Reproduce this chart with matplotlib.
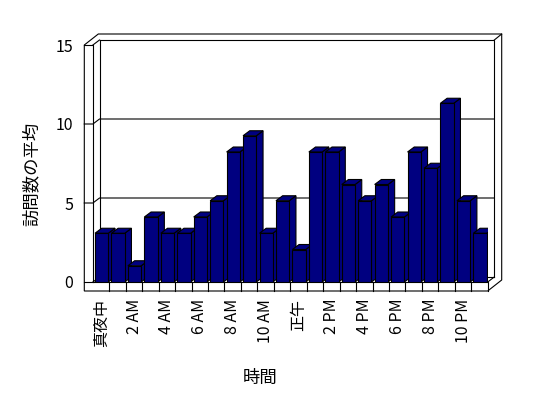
import matplotlib
matplotlib.use('Agg')
import matplotlib.pyplot as plt
from matplotlib.patches import Polygon

plt.rcParams['font.family'] = ['Noto Sans CJK JP', 'DejaVu Sans']

# データ
hours = ['真夜中', '1 AM', '2 AM', '3 AM', '4 AM', '5 AM', '6 AM', '7 AM',
         '8 AM', '9 AM', '10 AM', '11 AM', '正午', '1 PM', '2 PM', '3 PM',
         '4 PM', '5 PM', '6 PM', '7 PM', '8 PM', '9 PM', '10 PM', '11 PM']
visits = [3, 3, 1, 4, 3, 3, 4, 5, 8, 9, 3, 5, 2, 8, 8, 6, 5, 6, 4, 8, 7, 11, 5, 3]
y_ticks = [0, 5, 10, 15]
x_label = '時間'
y_label = '訪問数の平均'

NAVY = '#000080'
W, H = 548, 398
fig = plt.figure(figsize=(W / 100, H / 100), dpi=100)

# front plane of the 3d box, in pixels
x0, x1 = 92.9, 487.7
yb0, yb15 = 282, 45
n = len(hours)
pos = [x0 / W, 1 - yb0 / H, (x1 - x0) / W, (yb0 - yb15) / H]
cx = (x1 - x0) / n          # px per category
cy = (yb0 - yb15) / 15.0    # px per unit

ax = fig.add_axes(pos)
ax.set_xlim(0, n)
ax.set_ylim(0, 15)
ax.patch.set_visible(False)
for s in ax.spines.values():
    s.set_visible(False)

# depth offsets (px -> data)
dX, dY = 6.6 / cx, 5.0 / cy
oX, oY = 14.0 / cx, 11.0 / cy
xl = -8.6 / cx
yb = -9.0 / cy
lw = 0.8
kw = dict(color='black', lw=lw, clip_on=False, zorder=1)

# outer silhouette
sil = Polygon([(xl, 15), (xl + oX, 15 + oY), (n + oX, 15 + oY), (n + oX, yb + oY),
               (n, yb), (xl, yb)], closed=True, facecolor='white',
              edgecolor='black', lw=lw, clip_on=False, zorder=0)
ax.add_patch(sil)
# back wall
ax.plot([dX, n + dX, n + dX], [15 + dY, 15 + dY, dY], **kw)
ax.plot([dX, dX], [dY, 15 + dY], **kw)
ax.plot([dX, n + dX], [dY, dY], **kw)
ax.plot([n + dX, n + oX], [15 + dY, 15 + oY], **kw)
# left wall
ax.plot([xl, 0, 0], [15, 15, 0], **kw)
ax.plot([0, dX], [15, 15 + dY], **kw)
ax.plot([0, dX], [0, dY], **kw)
# floor
ax.plot([xl, n, n], [0, 0, yb], **kw)
ax.plot([n, n + dX], [0, dY], **kw)
for k in range(1, n):
    ax.plot([k, k], [yb, 0], **kw)
# gridlines
for v in y_ticks[1:-1]:
    ax.plot([xl, 0, dX, n + dX], [v, v, v + dY, v + dY], **kw)

ax.set_yticks(y_ticks)
ax.set_xticks([i + 0.5 for i in range(0, n, 2)])
ax.set_xticklabels(hours[::2], rotation=90, va='top', ha='center')
ax.tick_params(axis='x', length=0, pad=12, labelsize=11.5)
ax.tick_params(axis='y', length=0, pad=14, labelsize=11.5)
ax.set_xlabel(x_label, fontsize=12.5)
ax.set_ylabel(y_label, fontsize=12.5)
ax.xaxis.set_label_coords((260 - x0) / (x1 - x0), (yb0 - 369) / (yb0 - yb15))
ax.yaxis.set_label_coords((41 - x0) / (x1 - x0), (yb0 - 174) / (yb0 - yb15))

# bars (front of bars sit a little closer than the walls)
bx = fig.add_axes(pos)
bscale = 16.25
bx.set_xlim(0, n)
bx.set_ylim(0, (yb0 - yb15) / bscale)
bx.axis('off')
a, w = 2.1 / cx, 13.3 / cx
bdx, bdy = 6.7 / cx, 5.0 / bscale
bx.bar([i + a for i in range(n)], visits, width=w, align='edge', color=NAVY,
       edgecolor='black', lw=lw, zorder=3)
for i, v in enumerate(visits):
    l, r = i + a, i + a + w
    side = Polygon([(r, 0), (r + bdx, bdy), (r + bdx, v + bdy), (r, v)],
                   closed=True, facecolor=NAVY, edgecolor='black', lw=lw, zorder=2)
    top = Polygon([(l, v), (r, v), (r + bdx, v + bdy), (l + bdx, v + bdy)],
                  closed=True, facecolor=NAVY, edgecolor='black', lw=lw, zorder=2)
    bx.add_patch(side)
    bx.add_patch(top)

fig.savefig('out.png', dpi=100)
